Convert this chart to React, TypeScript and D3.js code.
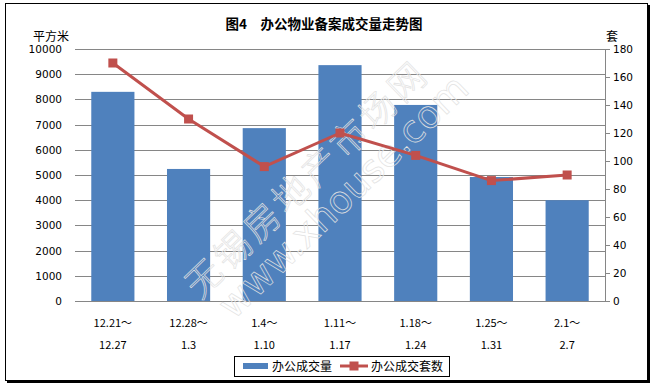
import React from "react";
import * as d3 from "d3";

const categoriesTop = ["12.21～", "12.28～", "1.4～", "1.11～", "1.18～", "1.25～", "2.1～"];
const categoriesBottom = ["12.27", "1.3", "1.10", "1.17", "1.24", "1.31", "2.7"];
const areaValues = [8300, 5240, 6860, 9360, 7780, 4920, 4000];
const unitValues = [170, 130, 96, 120, 104, 86, 90];
const leftTicks = [0, 1000, 2000, 3000, 4000, 5000, 6000, 7000, 8000, 9000, 10000];
const rightTicks = [0, 20, 40, 60, 80, 100, 120, 140, 160, 180];
const title = "图4　办公物业备案成交量走势图";
const seriesNames = ["办公成交量", "办公成交套数"];

const W = 652;
const H = 385;
const plot = { left: 75, right: 605, top: 49, bottom: 301 };
const numFont = "'DejaVu Sans', Verdana, sans-serif";
const cjkFont = "'Noto Sans CJK SC', 'DejaVu Sans', sans-serif";
const BLUE = "#4F81BD";
const RED = "#C0504D";

export default function App() {
  const idx = categoriesTop.map((_, i) => String(i));
  const x = d3.scaleBand<string>().domain(idx).range([plot.left, plot.right]).paddingInner(0.43).paddingOuter(0.215);
  const yL = d3.scaleLinear().domain([0, 10000]).range([plot.bottom, plot.top]);
  const yR = d3.scaleLinear().domain([0, 180]).range([plot.bottom, plot.top]);
  const cx = (i: number) => (x(String(i)) as number) + x.bandwidth() / 2;
  const line = d3
    .line<number>()
    .x((_, i) => cx(i))
    .y((d) => yR(d));

  return (
    <svg width={W} height={H} style={{ position: "absolute", left: 0, top: 0 }}>
      <rect x={0} y={0} width={W} height={H} fill="#fff" />
      {/* outer frame with shadow */}
      <rect x={7} y={5} width={643} height={378} fill="#000" />
      <rect x={5.5} y={3.5} width={642} height={377} fill="#fff" stroke="#000" strokeWidth={1} />

      <text x={324} y={29} textAnchor="middle" fontFamily={cjkFont} fontWeight="bold" fontSize={13.5}>
        {title}
      </text>

      {/* gridlines */}
      {leftTicks.map((t) => (
        <line key={"g" + t} x1={plot.left} x2={plot.right} y1={Math.round(yL(t)) + 0.5} y2={Math.round(yL(t)) + 0.5} stroke="#868686" strokeWidth={1} />
      ))}
      {/* right axis */}
      <line x1={plot.right + 0.5} x2={plot.right + 0.5} y1={plot.top} y2={plot.bottom} stroke="#868686" />
      {rightTicks.map((t) => (
        <line key={"rt" + t} x1={plot.right} x2={plot.right + 5} y1={Math.round(yR(t)) + 0.5} y2={Math.round(yR(t)) + 0.5} stroke="#868686" />
      ))}

      {/* bars */}
      {areaValues.map((v, i) => (
        <rect key={"b" + i} x={x(String(i))} y={yL(v)} width={x.bandwidth()} height={yL(0) - yL(v)} fill={BLUE} />
      ))}

      {/* watermark */}
      <g transform="translate(200,300) rotate(-44)" fill="none" stroke="#e2e2e2" strokeWidth={0.7}>
        <text x={0} y={0} fontFamily={cjkFont} fontWeight={300} fontSize={36} textLength={318} lengthAdjust="spacing">
          无锡房地产市场网
        </text>
        <text x={10} y={38} fontFamily="'DejaVu Sans', sans-serif" fontSize={38} textLength={330} lengthAdjust="spacingAndGlyphs">
          www.xhouse.com
        </text>
      </g>

      {/* line series */}
      <path d={line(unitValues) || ""} fill="none" stroke={RED} strokeWidth={3} strokeLinejoin="round" />
      {unitValues.map((v, i) => (
        <rect key={"m" + i} x={cx(i) - 4.5} y={yR(v) - 4.5} width={9} height={9} fill={RED} />
      ))}

      {/* left labels */}
      {leftTicks.map((t) => (
        <text key={"ll" + t} x={62} y={yL(t) + 4} textAnchor="end" fontFamily={numFont} fontSize={10.5} fill="#000">
          {t}
        </text>
      ))}
      <text x={33} y={41} fontFamily={cjkFont} fontSize={12}>
        平方米
      </text>
      {/* right labels */}
      {rightTicks.map((t) => (
        <text key={"rl" + t} x={613} y={yR(t) + 4} fontFamily={numFont} fontSize={10.5} fill="#000">
          {t}
        </text>
      ))}
      <text x={606} y={41} fontFamily={cjkFont} fontSize={12}>
        套
      </text>

      {/* category labels */}
      {categoriesTop.map((c, i) => (
        <g key={"c" + i}>
          <text x={cx(i)} y={327} textAnchor="middle" fontFamily={cjkFont} fontSize={11}>
            {c}
          </text>
          <text x={cx(i)} y={349} textAnchor="middle" fontFamily={cjkFont} fontSize={11}>
            {categoriesBottom[i]}
          </text>
        </g>
      ))}

      {/* legend */}
      <rect x={234.5} y={356.5} width={215} height={20} fill="#fff" stroke="#000" />
      <rect x={243} y={363} width={25} height={6} fill={BLUE} />
      <text x={272} y={371} fontFamily={cjkFont} fontSize={12}>
        {seriesNames[0]}
      </text>
      <line x1={340} x2={368} y1={366} y2={366} stroke={RED} strokeWidth={3} />
      <rect x={349.5} y={361.5} width={9} height={9} fill={RED} />
      <text x={371} y={371} fontFamily={cjkFont} fontSize={12}>
        {seriesNames[1]}
      </text>
    </svg>
  );
}
